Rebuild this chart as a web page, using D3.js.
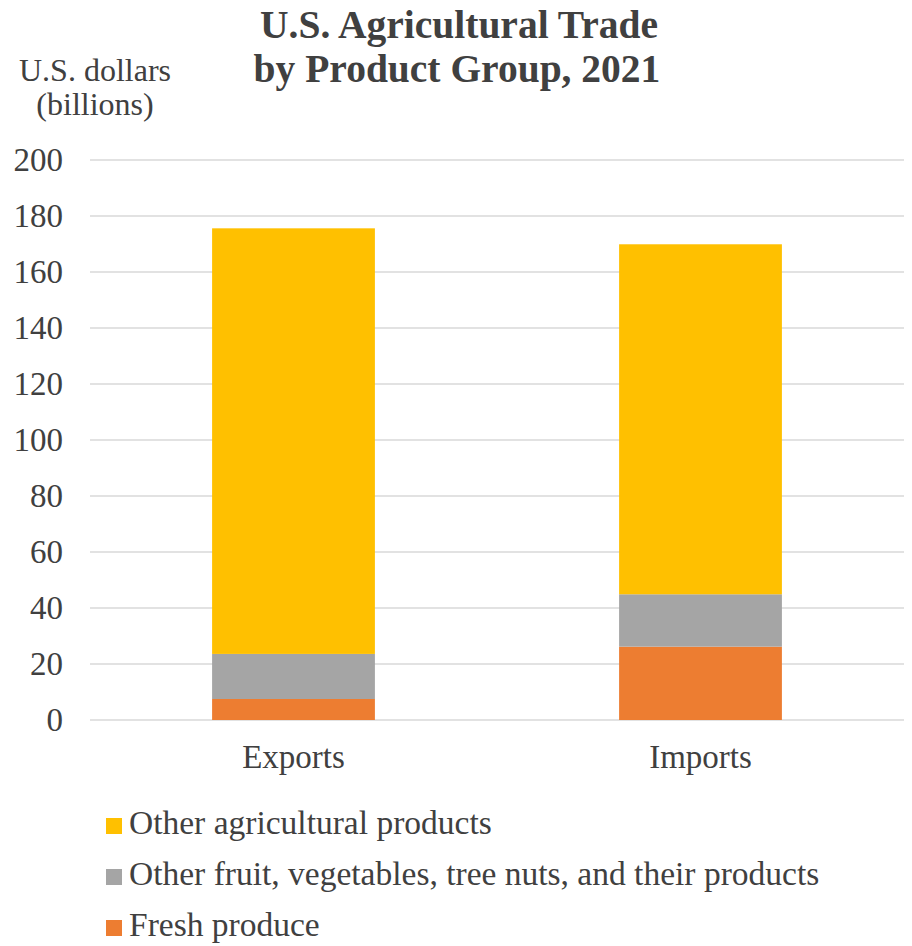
<!DOCTYPE html>
<html>
<head>
<meta charset="utf-8">
<script src="https://cdn.jsdelivr.net/npm/d3@7"></script>
<style>
  body { margin: 0; background: #fff; }
  svg text { font-family: "Liberation Serif", "Times New Roman", Times, serif; fill: #404040; }
</style>
</head>
<body>
<div id="chart-area"></div>
<script>
var width = 912,
    height = 946;

// Data (billions of U.S. dollars)
var categories = ["Exports", "Imports"];
var groups = ["Fresh produce", "Other fruit, vegetables, tree nuts, and their products", "Other agricultural products"];
var freshProduce = [7.5, 26.2];
var otherFruit = [16.1, 18.7];
var otherAgricultural = [152.0, 125.0];
var yTicks = [0, 20, 40, 60, 80, 100, 120, 140, 160, 180, 200];
var colors = ["#ED7D31", "#A5A5A5", "#FFC000"];

var legendOrder = [2, 1, 0];

var serif = '"Liberation Serif", "Times New Roman", Times, serif';

var margin = {left: 90, right: 8, top: 160, bottom: 226};

var rows = categories.map(function(c, i) {
    return {
        category: c,
        "Fresh produce": freshProduce[i],
        "Other fruit, vegetables, tree nuts, and their products": otherFruit[i],
        "Other agricultural products": otherAgricultural[i]
    };
});

var stack = d3.stack().keys(groups);
var series = stack(rows);

var svg = d3.select("#chart-area")
    .append("svg")
    .attr("width", width)
    .attr("height", height);

var x = d3.scaleBand()
    .domain(categories)
    .range([margin.left, width - margin.right])
    .paddingInner(0.6)
    .paddingOuter(0.3);

var y = d3.scaleLinear()
    .domain([0, 200])
    .range([height - margin.bottom, margin.top]);

// Gridlines
svg.append("g")
    .selectAll("line")
    .data(yTicks)
    .enter()
    .append("line")
    .attr("x1", margin.left)
    .attr("x2", width - margin.right)
    .attr("y1", d => y(d))
    .attr("y2", d => y(d))
    .attr("stroke", "#d9d9d9")
    .attr("stroke-width", 1.5);

// Y axis labels
var yAxis = d3.axisLeft(y)
    .tickValues(yTicks)
    .tickSize(0)
    .tickPadding(0);

svg.append("g")
    .attr("class", "axis y-axis")
    .attr("transform", "translate(63,0)")
    .attr("font-family", serif)
    .call(yAxis)
    .call(g => g.select(".domain").remove())
    .selectAll("text")
    .attr("font-size", "33px")
    .attr("fill", "#404040");

// Bars
svg.append("g")
    .selectAll("g")
    .data(series)
    .enter()
    .append("g")
    .attr("fill", (d, i) => colors[i])
    .selectAll("rect")
    .data(d => d)
    .enter()
    .append("rect")
    .attr("x", d => x(d.data.category))
    .attr("y", d => y(d[1]))
    .attr("width", x.bandwidth())
    .attr("height", d => y(d[0]) - y(d[1]));

// X axis labels
var xAxis = d3.axisBottom(x).tickSize(0).tickPadding(0);
svg.append("g")
    .attr("class", "axis x-axis")
    .attr("transform", "translate(0," + (height - margin.bottom) + ")")
    .attr("font-family", serif)
    .call(xAxis)
    .call(g => g.select(".domain").remove())
    .selectAll("text")
    .attr("dy", null)
    .attr("y", 48)
    .attr("font-size", "33px")
    .attr("fill", "#404040");

// Title
svg.append("text")
    .attr("text-anchor", "middle")
    .attr("x", 459)
    .attr("y", 38)
    .attr("font-size", "39.5px")
    .attr("font-weight", "bold")
    .text("U.S. Agricultural Trade");

svg.append("text")
    .attr("text-anchor", "middle")
    .attr("x", 457)
    .attr("y", 82)
    .attr("font-size", "39.5px")
    .attr("font-weight", "bold")
    .text("by Product Group, 2021");

// Y axis title
svg.append("text")
    .attr("text-anchor", "middle")
    .attr("x", 95)
    .attr("y", 81)
    .attr("font-size", "32px")
    .text("U.S. dollars");

svg.append("text")
    .attr("text-anchor", "middle")
    .attr("x", 95)
    .attr("y", 115)
    .attr("font-size", "32px")
    .text("(billions)");

// Legend
var legend = svg.append("g")
    .selectAll("g")
    .data(legendOrder)
    .enter()
    .append("g")
    .attr("transform", (d, i) => "translate(106," + (834 + i * 51) + ")");

legend.append("rect")
    .attr("x", 0)
    .attr("y", -16)
    .attr("width", 16)
    .attr("height", 16)
    .attr("fill", d => colors[d]);

legend.append("text")
    .attr("x", 23)
    .attr("y", 0)
    .attr("font-size", "33.5px")
    .text(d => groups[d]);
</script>
</body>
</html>
